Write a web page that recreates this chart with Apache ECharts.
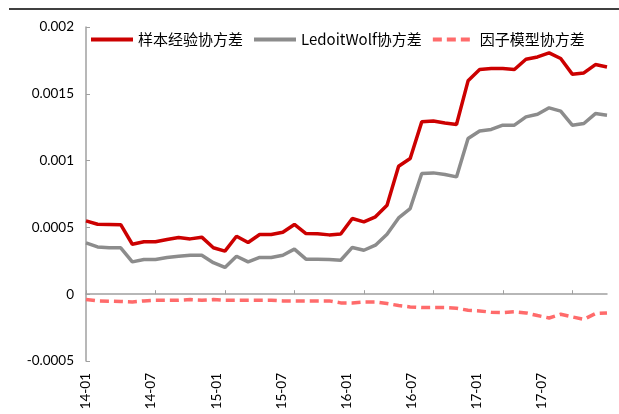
<!DOCTYPE html>
<html>
<head>
<meta charset="utf-8">
<script src="https://cdn.jsdelivr.net/npm/echarts@6/dist/echarts.min.js"></script>
<style>
html, body { margin: 0; padding: 0; background: #fff; }
#main { width: 619px; height: 414px; }
</style>
</head>
<body>
<div id="main"></div>
<script>
var months = ['14-01', '14-02', '14-03', '14-04', '14-05', '14-06', '14-07', '14-08', '14-09', '14-10', '14-11', '14-12',
    '15-01', '15-02', '15-03', '15-04', '15-05', '15-06', '15-07', '15-08', '15-09', '15-10', '15-11', '15-12',
    '16-01', '16-02', '16-03', '16-04', '16-05', '16-06', '16-07', '16-08', '16-09', '16-10', '16-11', '16-12',
    '17-01', '17-02', '17-03', '17-04', '17-05', '17-06', '17-07', '17-08', '17-09', '17-10'];
var tickLabels = ['14-01', '14-07', '15-01', '15-07', '16-01', '16-07', '17-01', '17-07'];
var yTicks = [-0.0005, 0, 0.0005, 0.001, 0.0015, 0.002];

var sampleCov = [0.000549, 0.000524, 0.000522, 0.00052, 0.000374, 0.000392, 0.000392, 0.000409, 0.000424, 0.000414,
    0.000427, 0.000348, 0.000322, 0.000434, 0.000387, 0.000447, 0.000447, 0.000464, 0.000522, 0.000454,
    0.000452, 0.000444, 0.00045, 0.000567, 0.000541, 0.000579, 0.000666, 0.000958, 0.001016, 0.00129,
    0.001297, 0.001282, 0.00127, 0.001597, 0.001682, 0.001689, 0.001689, 0.001682, 0.001759, 0.001776,
    0.001806, 0.001764, 0.001647, 0.001656, 0.001719, 0.001701];
var ledoitCov = [0.000384, 0.000354, 0.000347, 0.000347, 0.000242, 0.00026, 0.00026, 0.000275, 0.000284, 0.000292,
    0.000292, 0.000236, 0.0002, 0.000284, 0.000242, 0.000275, 0.000275, 0.000292, 0.000337, 0.000262,
    0.000262, 0.00026, 0.000254, 0.00035, 0.000329, 0.000367, 0.000449, 0.000571, 0.000641, 0.000903,
    0.000908, 0.000896, 0.000878, 0.001165, 0.001222, 0.001233, 0.001265, 0.001265, 0.001327, 0.001347,
    0.001395, 0.00137, 0.001265, 0.001278, 0.001352, 0.00134];
var factorCov = [-0.00004, -0.00005, -0.000052, -0.000055, -0.000058, -0.00005, -0.000045, -0.000045, -0.000045, -0.00004,
    -0.000045, -0.00004, -0.000045, -0.000045, -0.000045, -0.000045, -0.000045, -0.00005, -0.00005, -0.00005,
    -0.00005, -0.00005, -0.000065, -0.000065, -0.000058, -0.000058, -0.00007, -0.000085, -0.000095, -0.0001,
    -0.0001, -0.0001, -0.000105, -0.00012, -0.000125, -0.000135, -0.000137, -0.000132, -0.00014, -0.00016,
    -0.000178, -0.00015, -0.00017, -0.000188, -0.000145, -0.00014];

var myChart = echarts.init(document.getElementById('main'));
var textFont = 'Lato';
var option = {
    animation: false,
    backgroundColor: '#fff',
    graphic: [
        {
            type: 'line',
            shape: { x1: 9, y1: 9, x2: 619, y2: 9 },
            style: { stroke: '#000', lineWidth: 1.5 }
        }
    ],
    legend: {
        left: 84,
        top: 27,
        itemWidth: 42,
        itemHeight: 14,
        itemGap: 9,
        // only the line sample in the legend, no marker dot
        itemStyle: { opacity: 0 },
        lineStyle: { width: 4 },
        textStyle: {
            fontSize: 15,
            color: '#000',
            fontFamily: 'Noto Sans CJK SC'
        },
        data: ['样本经验协方差', 'LedoitWolf协方差', '因子模型协方差']
    },
    grid: {
        left: 86,
        right: 12,
        top: 27,
        bottom: 53
    },
    xAxis: [
        {
            type: 'category',
            boundaryGap: false,
            data: months,
            axisLine: {
                onZero: true,
                lineStyle: { color: '#a0a0a0', width: 1.5 }
            },
            axisTick: {
                inside: true,
                length: 4,
                interval: 5,
                lineStyle: { color: '#a0a0a0' }
            },
            axisLabel: { show: false },
            splitLine: { show: false }
        },
        {
            // label row only; Excel spaces these a little tighter than the ticks
            type: 'value',
            position: 'bottom',
            min: 0,
            max: 48,
            interval: 6,
            axisLine: { show: false, onZero: false },
            axisTick: { show: false },
            splitLine: { show: false },
            axisLabel: {
                rotate: 90,
                margin: 12,
                color: '#000',
                fontSize: 13.5,
                fontFamily: textFont,
                showMaxLabel: true,
                formatter: function (v) {
                    return tickLabels[v / 6] || '';
                }
            }
        }
    ],
    yAxis: [
        {
            type: 'value',
            min: -0.0005,
            max: 0.002,
            interval: 0.0005,
            axisLine: {
                show: true,
                lineStyle: { color: '#a0a0a0', width: 1.5 }
            },
            axisTick: {
                show: true,
                inside: true,
                length: 4,
                lineStyle: { color: '#a0a0a0' }
            },
            axisLabel: {
                color: '#000',
                fontSize: 13.5,
                fontFamily: textFont,
                margin: 12,
                formatter: function (v) {
                    var hit = yTicks.filter(function (t) { return Math.abs(t - v) < 1e-9; });
                    return hit.length ? String(hit[0]) : '';
                }
            },
            splitLine: { show: false }
        }
    ],
    series: [
        {
            name: '样本经验协方差',
            type: 'line',
            symbol: 'none',
            lineStyle: { color: '#cc0000', width: 3.5 },
            itemStyle: { color: '#cc0000' },
            data: sampleCov
        },
        {
            name: 'LedoitWolf协方差',
            type: 'line',
            symbol: 'none',
            lineStyle: { color: '#8c8c8c', width: 3.5 },
            itemStyle: { color: '#8c8c8c' },
            data: ledoitCov
        },
        {
            name: '因子模型协方差',
            type: 'line',
            symbol: 'none',
            lineStyle: { color: '#ff6b6b', width: 3.5, type: [9, 5] },
            itemStyle: { color: '#ff6b6b' },
            data: factorCov
        }
    ]
};
myChart.setOption(option);
</script>
</body>
</html>
